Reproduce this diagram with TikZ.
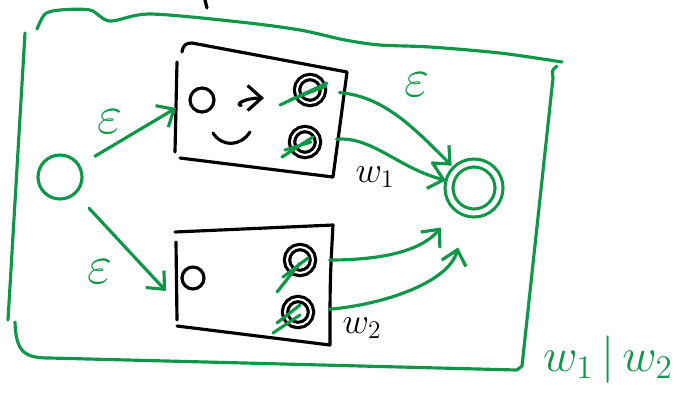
\documentclass[tikz,border=0pt]{standalone}
\usepackage{amsmath,amssymb}
\usetikzlibrary{arrows.meta}
\definecolor{marker}{RGB}{16,150,72}

\begin{document}
\begin{tikzpicture}[x=0.02cm, y=-0.02cm, every node/.style={font=\huge}, >={Straight Barb[length=2.8mm,width=5mm]},
	ink/.style={marker, line width=1.8pt, line cap=round, line join=round},
	pen/.style={black, line width=1.8pt, line cap=round, line join=round},
	eps/.style={marker, font=\Huge, scale=1.25},
	state/.style={circle, draw, line width=1.8pt, inner sep=0pt, minimum size=0.48cm},
	accstate/.style={state, double, double distance=1.2pt, minimum size=0.52cm}]
	\useasboundingbox (0,0) rectangle (679,397);
	% outer frame
	\draw[ink] (25,33) -- (8,320);
	\draw[ink] (15,322) .. controls (16,352) and (24,358) .. (50,358) -- (517,370) -- (522,366) -- (553,78) .. controls (552,70) .. (557,66);
	\draw[ink] plot[smooth] coordinates {(37,29) (45,14) (60,10) (90,10) (110,21) (150,14) (240,22) (300,30) (345,40) (380,45) (430,47) (500,53) (562,62)};
	\draw[pen] (205,0) -- (207,8);
	% the two machines
	\draw[pen] (182,52) .. controls (183,45) and (186,43) .. (192,43) -- (347,72) .. controls (342,110) .. (333,177) -- (180,158);
	\draw[pen] (177,62) -- (175,152);
	\draw[pen] (175,232) -- (333,225) .. controls (330,280) .. (330,345) -- (177,326);
	\draw[pen] (176,242) -- (177,320);
	\node[state] (p0) at (202,100) {};
	\node[accstate] (p1) at (310,90) {};
	\node[accstate] (p2) at (305,142) {};
	\node[state, minimum size=0.44cm] (r0) at (193,278) {};
	\node[accstate] (r1) at (300,260) {};
	\node[accstate] (r2) at (298,312) {};
	\draw[pen, ->, shorten <=0.52cm] (p0) to[out=-8, in=180] ++(62,-2);
	\draw[pen] (213,133) .. controls (222,147) and (240,147) .. (250,132);
	\foreach \n/\ox/\oy/\vx/\vy in {p1/-30/15/47/-22, p2/-23/15/31/-20, r1/-23/32/23/-29, r2/-25/21/27/-18}
		\draw[ink] ([shift={(\ox,\oy)}]\n.center) -- ++(\vx,\vy);
	\foreach \n/\ox/\oy/\vx/\vy in {p1/-20/10/36/-14, p2/-20/8/26/-8, r1/-17/17/25/-19, r2/-21/11/23/-18}
		\draw[ink] ([shift={(\ox,\oy)}]\n.center) -- ++(\vx,\vy);
	\node (w1) at (375,177) {$w_1$};
	\node (w2) at (362,328) {$w_2$};
	% new start and final state
	\node[state, draw=marker, minimum size=0.88cm] (s) at (60,177) {};
	\node[accstate, draw=marker, minimum size=1cm, double distance=2.7pt] (f) at (474,188) {};
	\coordinate (in1) at (176,108);
	\coordinate (in2) at (166,291);
	\draw[ink, ->, shorten <=0.34cm] (s) -- (in1);
	\draw[ink, ->, shorten <=0.38cm] (s) -- (in2);
	\node[eps] (e1) at (110,122) {$\varepsilon$};
	\node[eps] (e2) at (100,272) {$\varepsilon$};
	\draw[ink, ->, shorten <=0.3cm, shorten >=0.1cm] (p1) to[out=-5, in=135] (f);
	\draw[ink, ->, shorten <=0.34cm, shorten >=0.05cm] (p2) to[out=5, in=165] (f);
	\draw[ink, ->, shorten <=0.3cm, shorten >=0.5cm] (r1) to[out=0, in=-130] (f);
	\draw[ink, ->, shorten <=0.34cm, shorten >=0.7cm] (r2) to[out=5, in=-105] (f);
	\node[eps] (e3) at (417,85) {$\varepsilon$};
	\node[marker, scale=1.3] (w12) at (608,360) {$w_1\,|\,w_2$};
\end{tikzpicture}
\end{document}
